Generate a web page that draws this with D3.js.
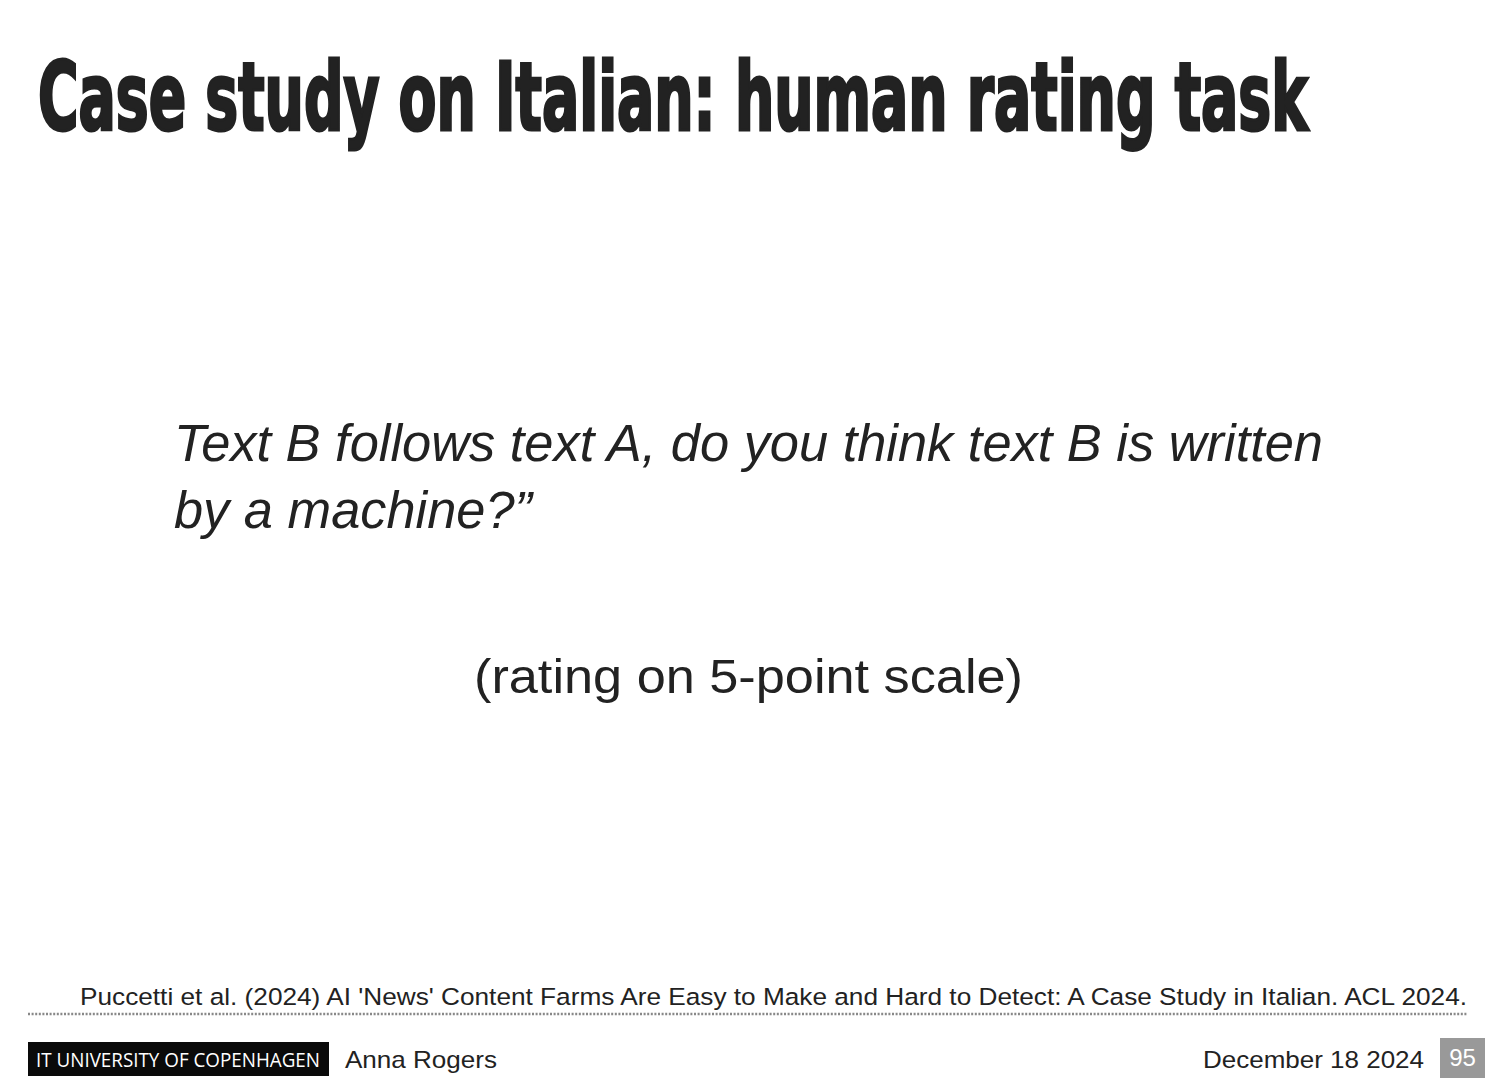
<!DOCTYPE html>
<html>
<head>
<meta charset="utf-8">
<script src="https://cdn.jsdelivr.net/npm/d3@7"></script>
<style>
  html, body { margin: 0; padding: 0; background: #fff; }
  svg { display: block; }
</style>
</head>
<body>
<div id="slide"></div>
<script>
// Slide texts
const titleText = "Case study on Italian: human rating task";
const questionLines = [
    "Text B follows text A, do you think text B is written",
    "by a machine?\u201D"
];
const scaleNote = "(rating on 5-point scale)";
const citation = "Puccetti et al. (2024) AI 'News' Content Farms Are Easy to Make and Hard to Detect: A Case Study in Italian. ACL 2024.";
const footerLabels = ["IT UNIVERSITY OF COPENHAGEN", "Anna Rogers", "December 18 2024"];
const pageNumber = ["95"];

const width = 1499;
const height = 1092;
const ink = '#222';
const sans = '"Liberation Sans", Arial, sans-serif';

const svg = d3.select('#slide')
    .append('svg')
    .attr('width', width)
    .attr('height', height);

svg.append('rect')
    .attr('width', width)
    .attr('height', height)
    .attr('fill', '#fff');

// Title: condensed heavy face, scaled horizontally to the reference width
const title = svg.append('text')
    .attr('x', 0)
    .attr('y', 0)
    .attr('font-family', '"Liberation Sans Narrow", "DejaVu Sans Condensed", "Liberation Sans", sans-serif')
    .attr('font-weight', 'bold')
    .attr('font-size', 94)
    .attr('fill', ink)
    .attr('stroke', ink)
    .attr('stroke-width', 3)
    .text(titleText);
const titleW = title.node().getComputedTextLength();
title.attr('transform', `translate(38,130) scale(${1270 / titleW},1)`);

// Question, two italic lines
const lineY = d3.scaleLinear().domain([0, 1]).range([461, 528]);
svg.append('g')
    .selectAll('text')
    .data(questionLines)
    .enter()
    .append('text')
    .attr('x', 174)
    .attr('y', (d, i) => lineY(i))
    .attr('font-family', sans)
    .attr('font-style', 'italic')
    .attr('font-size', 51)
    .attr('fill', ink)
    .attr('textLength', (d, i) => i === 0 ? 1149 : 358)
    .attr('lengthAdjust', 'spacingAndGlyphs')
    .text(d => d);

// Scale note
svg.append('text')
    .attr('x', 474)
    .attr('y', 693)
    .attr('font-family', sans)
    .attr('font-size', 48)
    .attr('fill', ink)
    .attr('textLength', 549)
    .attr('lengthAdjust', 'spacingAndGlyphs')
    .text(scaleNote);

// Citation above dotted rule
svg.append('text')
    .attr('x', 80)
    .attr('y', 1005)
    .attr('font-family', sans)
    .attr('font-size', 24.5)
    .attr('fill', ink)
    .attr('textLength', 1387)
    .attr('lengthAdjust', 'spacingAndGlyphs')
    .text(citation);

svg.append('line')
    .attr('x1', 28)
    .attr('x2', 1468)
    .attr('y1', 1014)
    .attr('y2', 1014)
    .attr('stroke', '#888')
    .attr('stroke-width', 2.5)
    .attr('stroke-dasharray', '2,1.6');

// Footer: university badge
svg.append('rect')
    .attr('x', 28)
    .attr('y', 1042)
    .attr('width', 301)
    .attr('height', 34)
    .attr('fill', '#0a0a0a');

svg.append('text')
    .attr('x', 36)
    .attr('y', 1067)
    .attr('font-family', '"Open Sans", "Liberation Sans Narrow", sans-serif')
    .attr('font-size', 20)
    .attr('fill', '#fff')
    .attr('textLength', 284)
    .attr('lengthAdjust', 'spacingAndGlyphs')
    .text(footerLabels[0]);

svg.append('text')
    .attr('x', 345)
    .attr('y', 1068)
    .attr('font-family', sans)
    .attr('font-size', 24)
    .attr('fill', ink)
    .attr('textLength', 152)
    .attr('lengthAdjust', 'spacingAndGlyphs')
    .text(footerLabels[1]);

svg.append('text')
    .attr('x', 1203)
    .attr('y', 1068)
    .attr('font-family', sans)
    .attr('font-size', 24)
    .attr('fill', ink)
    .attr('textLength', 221)
    .attr('lengthAdjust', 'spacingAndGlyphs')
    .text(footerLabels[2]);

// Page number badge
svg.append('rect')
    .attr('x', 1440)
    .attr('y', 1038)
    .attr('width', 45)
    .attr('height', 40)
    .attr('fill', '#999');

svg.append('text')
    .attr('x', 1462.5)
    .attr('y', 1066)
    .attr('text-anchor', 'middle')
    .attr('font-family', sans)
    .attr('font-size', 24)
    .attr('fill', '#fff')
    .text(pageNumber[0]);
</script>
</body>
</html>
